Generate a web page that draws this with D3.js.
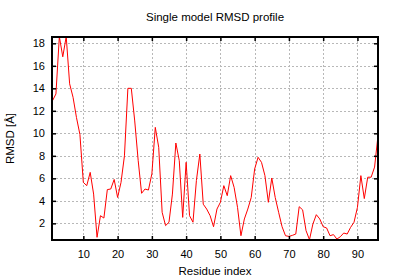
<!DOCTYPE html>
<html>
<head>
<meta charset="utf-8">
<script src="https://cdn.jsdelivr.net/npm/d3@7"></script>
<style>
  html, body { margin: 0; padding: 0; background: #fff; }
  text { font-family: "Liberation Sans", Arial, Helvetica, sans-serif; fill: #000; }
</style>
</head>
<body>
<svg id="chart" width="400" height="280"></svg>
<script>
const residues = d3.range(1, 97);
const rmsd = [
  12.9, 13.5, 18.6, 16.8, 18.6, 14.4, 13.2, 11.4, 9.9, 5.64,
  5.35, 6.53, 4.6, 0.76, 2.68, 2.47, 5.0, 5.05, 5.9, 4.3,
  5.64, 8.0, 14.0, 14.0, 11.1, 7.6, 4.67, 5.05, 4.96, 6.4,
  10.53, 8.76, 2.98, 1.8, 2.1, 4.6, 9.14, 7.57, 2.53, 7.42,
  2.68, 2.1, 5.8, 8.16, 3.7, 3.27, 2.68, 1.7, 3.27, 3.87,
  5.35, 4.46, 6.24, 5.2, 3.42, 0.9, 2.39, 3.27, 4.3, 6.83,
  7.87, 7.42, 6.24, 3.87, 6.03, 4.3, 2.98, 1.7, 0.9, 0.84,
  0.93, 1.05, 3.48, 3.2, 1.35, 0.55, 1.94, 2.77, 2.39, 1.7,
  1.59, 0.9, 1.0, 0.6, 0.81, 1.14, 1.05, 1.64, 2.1, 3.42,
  6.24, 4.2, 6.1, 6.1, 7.0, 9.8
];
const xTicks = [10, 20, 30, 40, 50, 60, 70, 80, 90];
const yTicks = [2, 4, 6, 8, 10, 12, 14, 16, 18];
const xDomain = [1, 96];
const yDomain = [0.52, 18.56];

const titleText = "Single model RMSD profile";
const xLabel = "Residue index";
const yLabel = "RMSD [Å]";

const L = 52, R = 378, T = 37, B = 240;
const svg = d3.select("#chart");

const x = d3.scaleLinear().domain(xDomain).range([L + 0.5, R]);
const y = d3.scaleLinear().domain(yDomain).range([B, T]);

// grid
const grid = svg.append("g").attr("stroke", "#b8b8b8").attr("stroke-width", 1)
  .attr("stroke-dasharray", "2,2").attr("shape-rendering", "crispEdges");
grid.selectAll("line.gx").data(xTicks).join("line")
  .attr("x1", d => Math.round(x(d)) + 0.5).attr("x2", d => Math.round(x(d)) + 0.5)
  .attr("y1", T).attr("y2", B);
grid.selectAll("line.gy").data(yTicks).join("line")
  .attr("x1", L).attr("x2", R)
  .attr("y1", d => Math.round(y(d)) + 0.5).attr("y2", d => Math.round(y(d)) + 0.5);

// clip
svg.append("clipPath").attr("id", "clip").append("rect")
  .attr("x", L).attr("y", T).attr("width", R - L).attr("height", B - T);

const line = d3.line().x((d, i) => x(residues[i])).y(d => y(d));
svg.append("path").datum(rmsd)
  .attr("clip-path", "url(#clip)")
  .attr("fill", "none").attr("stroke", "#ff0000").attr("stroke-width", 1)
  .attr("d", line);

// axes (ticks inward, mirrored)
const tk = 4;
const axB = svg.append("g").attr("transform", `translate(0,${B})`)
  .call(d3.axisBottom(x).tickValues(xTicks).tickSizeInner(-tk).tickSizeOuter(0).tickPadding(10));
const axT = svg.append("g").attr("transform", `translate(0,${T})`)
  .call(d3.axisTop(x).tickValues(xTicks).tickSizeInner(-tk).tickSizeOuter(0).tickFormat(""));
const axL = svg.append("g").attr("transform", `translate(${L},0)`)
  .call(d3.axisLeft(y).tickValues(yTicks).tickSizeInner(-tk).tickSizeOuter(0).tickPadding(7));
const axRt = svg.append("g").attr("transform", `translate(${R},0)`)
  .call(d3.axisRight(y).tickValues(yTicks).tickSizeInner(-tk).tickSizeOuter(0).tickFormat(""));
[axB, axT, axL, axRt].forEach(g => {
  g.select(".domain").remove();
  g.selectAll(".tick line").attr("stroke", "#000").attr("stroke-width", 1.5);
  g.selectAll("text").attr("font-size", 11).attr("font-family", "'Liberation Sans', Arial, sans-serif").attr("fill", "#000");
});

// border
svg.append("rect").attr("x", L).attr("y", T).attr("width", R - L).attr("height", B - T)
  .attr("fill", "none").attr("stroke", "#000").attr("stroke-width", 2);

// labels
svg.append("text").attr("x", (L + R) / 2).attr("y", 21).attr("text-anchor", "middle")
  .attr("font-size", 11.5).text(titleText);
svg.append("text").attr("x", (L + R) / 2).attr("y", 275).attr("text-anchor", "middle")
  .attr("font-size", 11.5).text(xLabel);
svg.append("text").attr("transform", `translate(14,${(T + B) / 2}) rotate(-90)`)
  .attr("text-anchor", "middle").attr("font-size", 11.5).text(yLabel);
</script>
</body>
</html>
